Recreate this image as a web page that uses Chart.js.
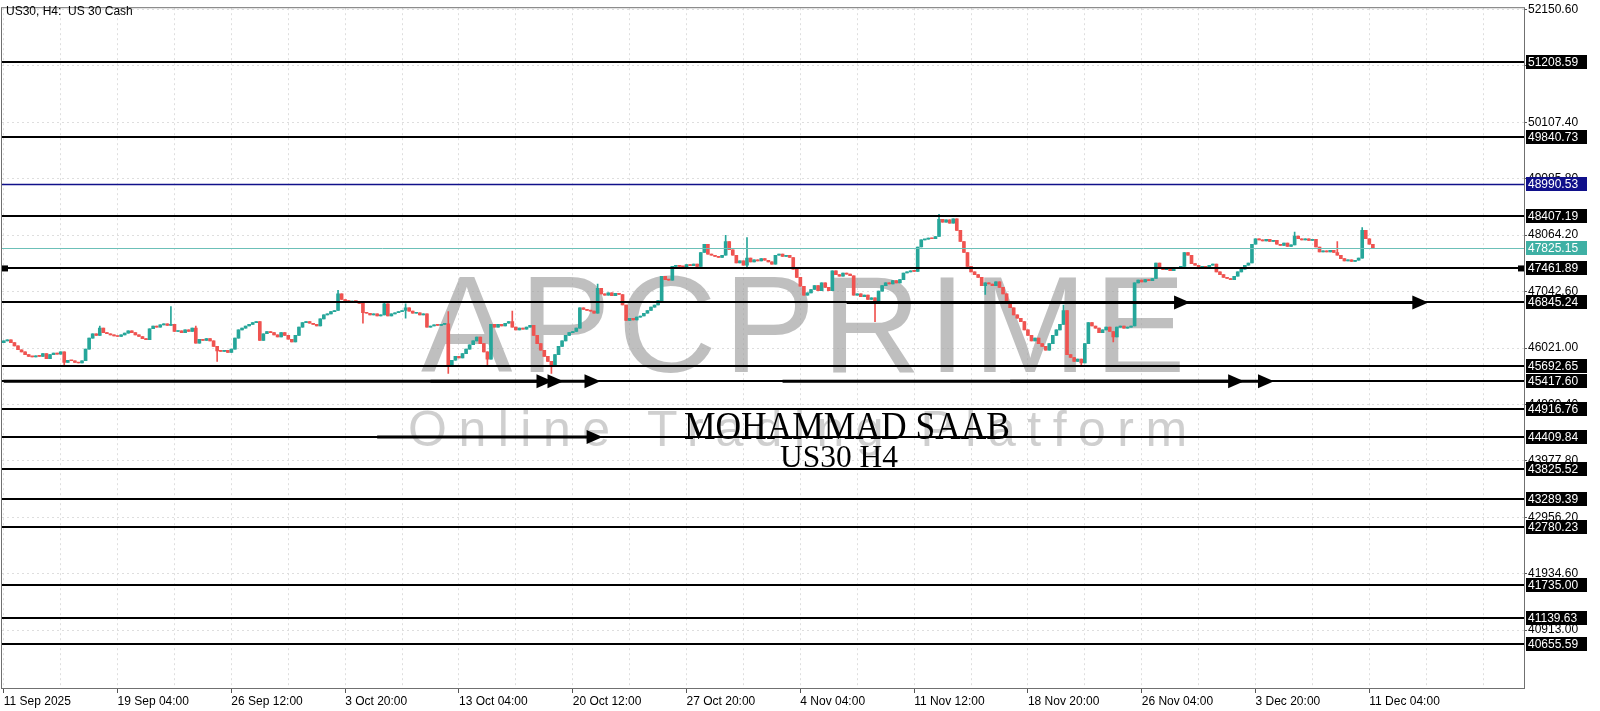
<!DOCTYPE html>
<html>
<head>
<meta charset="utf-8">
<title>US30, H4</title>
<script src="https://cdn.jsdelivr.net/npm/chart.js"></script>
<style>
  html, body { margin: 0; padding: 0; background: #ffffff; }
  #chart { display: block; }
</style>
</head>
<body>
<canvas id="chart" width="1600" height="711"></canvas>
<script>
// values

var tickLabels = ['11 Sep 2025', '19 Sep 04:00', '26 Sep 12:00', '3 Oct 20:00', '13 Oct 04:00',
  '20 Oct 12:00', '27 Oct 20:00', '4 Nov 04:00', '11 Nov 12:00', '18 Nov 20:00',
  '26 Nov 04:00', '3 Dec 20:00', '11 Dec 04:00'];
var barsPerTick = 32;   // H4 bars between two date labels
var barsPerGrid = 16;   // dotted grid every half label step
var slotCount = 428;    // bars that fit in the window (chart has empty space on the right)

var yTicks = [40913.00, 41934.60, 42956.20, 43977.80, 44999.40, 46021.00,
  47042.60, 48064.20, 49085.80, 50107.40, 51129.00, 52150.60];
var yMin = 39865;
var yMax = 52174;

var firstOpen = 46120;
var closes = [
  46150, 46170, 46120, 46060, 45990, 45950, 45900, 45870, 45860, 45880, // 0
  45870, 45920, 45830, 45900, 45930, 45910, 45950, 45760, 45800, 45790, // 10
  45760, 45750, 45790, 46000, 46200, 46280, 46250, 46380, 46300, 46280, // 20
  46260, 46240, 46230, 46260, 46290, 46330, 46300, 46260, 46230, 46190, // 30
  46170, 46370, 46420, 46400, 46440, 46460, 46430, 46450, 46320, 46330, // 40
  46300, 46350, 46320, 46380, 46110, 46180, 46160, 46190, 46150, 46050, // 50
  45970, 45960, 45980, 45940, 46000, 46200, 46350, 46380, 46420, 46450, // 60
  46480, 46500, 46160, 46280, 46320, 46300, 46260, 46220, 46300, 46250, // 70
  46180, 46130, 46250, 46400, 46480, 46500, 46470, 46450, 46420, 46550, // 80
  46620, 46640, 46680, 46700, 47000, 46900, 46880, 46850, 46870, 46860, // 90
  46830, 46660, 46650, 46620, 46640, 46600, 46620, 46820, 46600, 46640, // 100
  46660, 46680, 46700, 46750, 46690, 46650, 46660, 46620, 46640, 46400, // 110
  46420, 46440, 46430, 46450, 46460, 45700, 45800, 45870, 45840, 45920, // 120
  46000, 46080, 46150, 46220, 46100, 45950, 45820, 46450, 46400, 46450, // 130
  46420, 46470, 46500, 46400, 46350, 46380, 46360, 46400, 46430, 46250, // 140
  46100, 45980, 45870, 45780, 45700, 45900, 46050, 46150, 46250, 46300, // 150
  46320, 46380, 46750, 46720, 46700, 46690, 46650, 47100, 47000, 46980, // 160
  47020, 46970, 47010, 46990, 46800, 46520, 46560, 46530, 46580, 46600, // 170
  46650, 46700, 46760, 46800, 46880, 47320, 47260, 47250, 47500, 47520, // 180
  47500, 47490, 47530, 47510, 47540, 47500, 47750, 47900, 47720, 47700, // 190
  47680, 47660, 47700, 47950, 47800, 47700, 47560, 47600, 47520, 47650, // 200
  47580, 47620, 47600, 47640, 47610, 47580, 47540, 47700, 47720, 47680, // 210
  47700, 47660, 47450, 47300, 47140, 46980, 47020, 47080, 47150, 47060, // 220
  47200, 47120, 47060, 47420, 47350, 47320, 47380, 47360, 47330, 46980, // 230
  47000, 46950, 46980, 46900, 46930, 46880, 47050, 47150, 47200, 47180, // 240
  47240, 47200, 47260, 47380, 47400, 47420, 47410, 47850, 47980, 47990, // 250
  48010, 48000, 48040, 48350, 48300, 48340, 48280, 48360, 48150, 47950, // 260
  47750, 47500, 47400, 47350, 47300, 47150, 47200, 47180, 47150, 47220, // 270
  47120, 47000, 46860, 46750, 46620, 46560, 46500, 46350, 46250, 46150, // 280
  46200, 46100, 46050, 45980, 46100, 46250, 46350, 46450, 46700, 45900, // 290
  45850, 45780, 45820, 45750, 46100, 46480, 46420, 46380, 46300, 46350, // 300
  46400, 46320, 46220, 46400, 46420, 46380, 46400, 46420, 47200, 47250, // 310
  47220, 47260, 47240, 47280, 47560, 47480, 47440, 47460, 47420, 47480, // 320
  47460, 47500, 47750, 47700, 47550, 47520, 47480, 47500, 47470, 47520, // 330
  47540, 47400, 47350, 47300, 47280, 47260, 47320, 47400, 47450, 47520, // 340
  47560, 47900, 48000, 47980, 47960, 47990, 47950, 47970, 47900, 47880, // 350
  47920, 47860, 47890, 48050, 48000, 47980, 48000, 47970, 47990, 47850, // 360
  47760, 47780, 47760, 47790, 47750, 47700, 47640, 47600, 47620, 47590, // 370
  47610, 47650, 48150, 48000, 47900, 47825                              // 380
];

// bars whose wicks stick out clearly (others: wick hidden inside the body)
var wickIdx  = [17, 27, 47, 54, 60, 94, 101, 107, 113, 125, 136, 143, 154, 167, 203, 209, 245, 263, 276, 298, 303, 312, 363, 375, 382];
var wickHigh = [null, 46420, 46770, 46420, null, 47065, null, 46850, 46820, 46680, null, 46690, null, 47180, 48060, 48020, null, 48440, null, 46800, null, null, 48120, 47950, 48200];
var wickLow  = [45690, null, null, null, 45780, null, 46470, null, 46560, 45560, 45690, null, 45560, null, null, 47480, 46500, null, 46990, null, 45720, 46130, null, null, null];

// horizontal levels drawn on the chart
var levels = [51208.59, 49840.73, 48407.19, 47461.89, 46845.24, 45692.65, 45417.60,
  44916.76, 44409.84, 43825.52, 43289.39, 42780.23, 41735.00, 41139.63, 40655.59];
var markedLevel = 48990.53;
var lastPrice = 47825.15;
var squareLevel = 47461.89;

// arrowed trend lines: from bar, to bar, at price
var arrowFrom  = [0, 120, 150, 219, 283, 237, 323, 105];
var arrowTo    = [154.3, 157.4, 167.8, 348.8, 357.2, 333.6, 400.6, 168.4];
var arrowPrice = [45417.60, 45417.60, 45417.60, 45417.60, 45417.60, 46845.24, 46845.24, 44409.84];

// ---- build candles ----
var opens = closes.map(function (c, i) { return i === 0 ? firstOpen : closes[i - 1]; });
var highs = closes.map(function (c, i) { return Math.max(c, opens[i]); });
var lows  = closes.map(function (c, i) { return Math.min(c, opens[i]); });
wickIdx.forEach(function (idx, k) {
  if (wickHigh[k] != null) highs[idx] = wickHigh[k];
  if (wickLow[k] != null) lows[idx] = wickLow[k];
});

var slots = [];
for (var s = 0; s < slotCount; s++) slots.push(s);

var UP = '#26a69a', DOWN = '#ef5350';
function candleColor(ctx) {
  var i = ctx.dataIndex;
  return closes[i] >= opens[i] ? UP : DOWN;
}
function labelAt(v) {
  return v % barsPerTick === 0 ? (tickLabels[v / barsPerTick] || '') : '';
}

var FONT = 'Liberation Sans, Arial, sans-serif';

var overlay = {
  id: 'overlay',
  beforeDatasetsDraw: function (chart) {
    var c = chart.ctx, a = chart.chartArea;
    c.save();
    c.beginPath(); c.rect(a.left, a.top, a.right - a.left, a.bottom - a.top); c.clip();
    // watermark
    c.fillStyle = 'rgba(160,160,160,0.68)';
    c.font = '137px ' + FONT;
    c.letterSpacing = '7px';
    c.textAlign = 'left'; c.textBaseline = 'alphabetic';
    c.fillText('APCPRIME', 421, 372);
    c.fillStyle = 'rgba(195,195,195,0.8)';
    c.font = '50px ' + FONT;
    c.letterSpacing = '11.5px';
    c.fillText('Online Trading Platform', 408, 446);
    c.letterSpacing = '0px';
    c.restore();
  },
  afterDatasetsDraw: function (chart) {
    var c = chart.ctx, a = chart.chartArea;
    var x = chart.scales.x, y = chart.scales.y;
    c.save();
    c.beginPath(); c.rect(a.left, a.top, a.right - a.left, a.bottom - a.top); c.clip();
    function hline(v, color, w) {
      var py = Math.round(y.getPixelForValue(v)) + (w % 2 ? 0.5 : 0);
      c.strokeStyle = color; c.lineWidth = w;
      c.beginPath(); c.moveTo(a.left, py); c.lineTo(a.right, py); c.stroke();
    }
    levels.forEach(function (v) { hline(v, '#000000', 2); });
    hline(markedLevel, '#10108a', 1.5);
    hline(lastPrice, '#6cc0b8', 1);
    // arrows
    c.fillStyle = '#000'; c.strokeStyle = '#000'; c.lineWidth = 3;
    arrowFrom.forEach(function (f, k) {
      var py = y.getPixelForValue(arrowPrice[k]);
      var x0 = x.getPixelForValue(f), x1 = x.getPixelForValue(arrowTo[k]);
      c.beginPath(); c.moveTo(x0, py); c.lineTo(x1 - 12, py); c.stroke();
      c.beginPath(); c.moveTo(x1, py); c.lineTo(x1 - 16, py - 7); c.lineTo(x1 - 16, py + 7); c.closePath(); c.fill();
    });
    // end squares on one level
    var sy = y.getPixelForValue(squareLevel);
    c.fillRect(a.left, sy - 3, 6, 6);
    c.fillRect(a.right - 6, sy - 3, 6, 6);
    // signature
    c.fillStyle = '#000';
    c.textAlign = 'center'; c.textBaseline = 'alphabetic';
    c.font = '40px Liberation Serif, Times New Roman, serif';
    c.fillText('MOHAMMAD SAAB', 847, 439, 326);
    c.font = '32px Liberation Serif, Times New Roman, serif';
    c.fillText('US30 H4', 839, 467, 118);
    c.restore();
  },
  afterDraw: function (chart) {
    var c = chart.ctx, a = chart.chartArea, y = chart.scales.y;
    c.save();
    c.strokeStyle = '#707070'; c.lineWidth = 1;
    c.strokeRect(a.left - 0.5, a.top - 0.5, a.right - a.left + 1, a.bottom - a.top + 1);
    c.font = '12px ' + FONT;
    c.textAlign = 'left'; c.textBaseline = 'middle';
    function box(v, bg) {
      var py = Math.round(y.getPixelForValue(v));
      c.fillStyle = bg;
      c.fillRect(a.right + 2, py - 7, 61, 14);
      c.fillStyle = '#ffffff';
      c.fillText(v.toFixed(2), a.right + 4, py + 0.5);
    }
    levels.forEach(function (v) { box(v, '#000000'); });
    box(markedLevel, '#10108a');
    box(lastPrice, '#3fb0a4');
    c.fillStyle = '#000';
    c.fillText('US30, H4:  US 30 Cash', 6, 12);
    c.restore();
  }
};

new Chart(document.getElementById('chart').getContext('2d'), {
  type: 'bar',
  data: {
    labels: slots,
    datasets: [
      {
        label: 'body',
        data: closes.map(function (c, i) { return [opens[i], c]; }),
        backgroundColor: candleColor,
        barThickness: 3,
        minBarLength: 1,
        grouped: false,
        order: 1
      },
      {
        label: 'wick',
        data: closes.map(function (c, i) { return [lows[i], highs[i]]; }),
        backgroundColor: candleColor,
        barThickness: 1,
        grouped: false,
        order: 2
      }
    ]
  },
  options: {
    responsive: false,
    animation: false,
    layout: { padding: { left: 2, top: 3, right: 0, bottom: 0 } },
    plugins: { legend: { display: false }, tooltip: { enabled: false } },
    scales: {
      x: {
        offset: true,
        grid: {
          offset: false, color: '#dedede', tickLength: 5,
          tickColor: function (ctx) { return ctx.tick && labelAt(ctx.tick.value) ? '#555' : 'rgba(0,0,0,0)'; }
        },
        border: { display: false, dash: [2, 3] },
        ticks: {
          autoSkip: false, maxRotation: 0, minRotation: 0, align: 'start', padding: 1,
          color: '#000', font: { family: FONT, size: 12 },
          callback: function (v) { return labelAt(v); }
        },
        afterBuildTicks: function (s) {
          s.ticks = s.ticks.filter(function (t) { return t.value % barsPerGrid === 0; });
        },
        afterFit: function (s) { s.height = 23; }
      },
      y: {
        position: 'right',
        min: yMin,
        max: yMax,
        grid: { color: '#dedede', tickColor: '#555', tickLength: 3 },
        border: { display: false, dash: [2, 3] },
        ticks: {
          padding: 1, color: '#000', font: { family: FONT, size: 12 },
          callback: function (v) { return v.toFixed(2); }
        },
        afterBuildTicks: function (s) {
          s.ticks = yTicks.map(function (v) { return { value: v }; });
        },
        afterFit: function (s) { s.width = 76; }
      }
    }
  },
  plugins: [overlay]
});
</script>
</body>
</html>
